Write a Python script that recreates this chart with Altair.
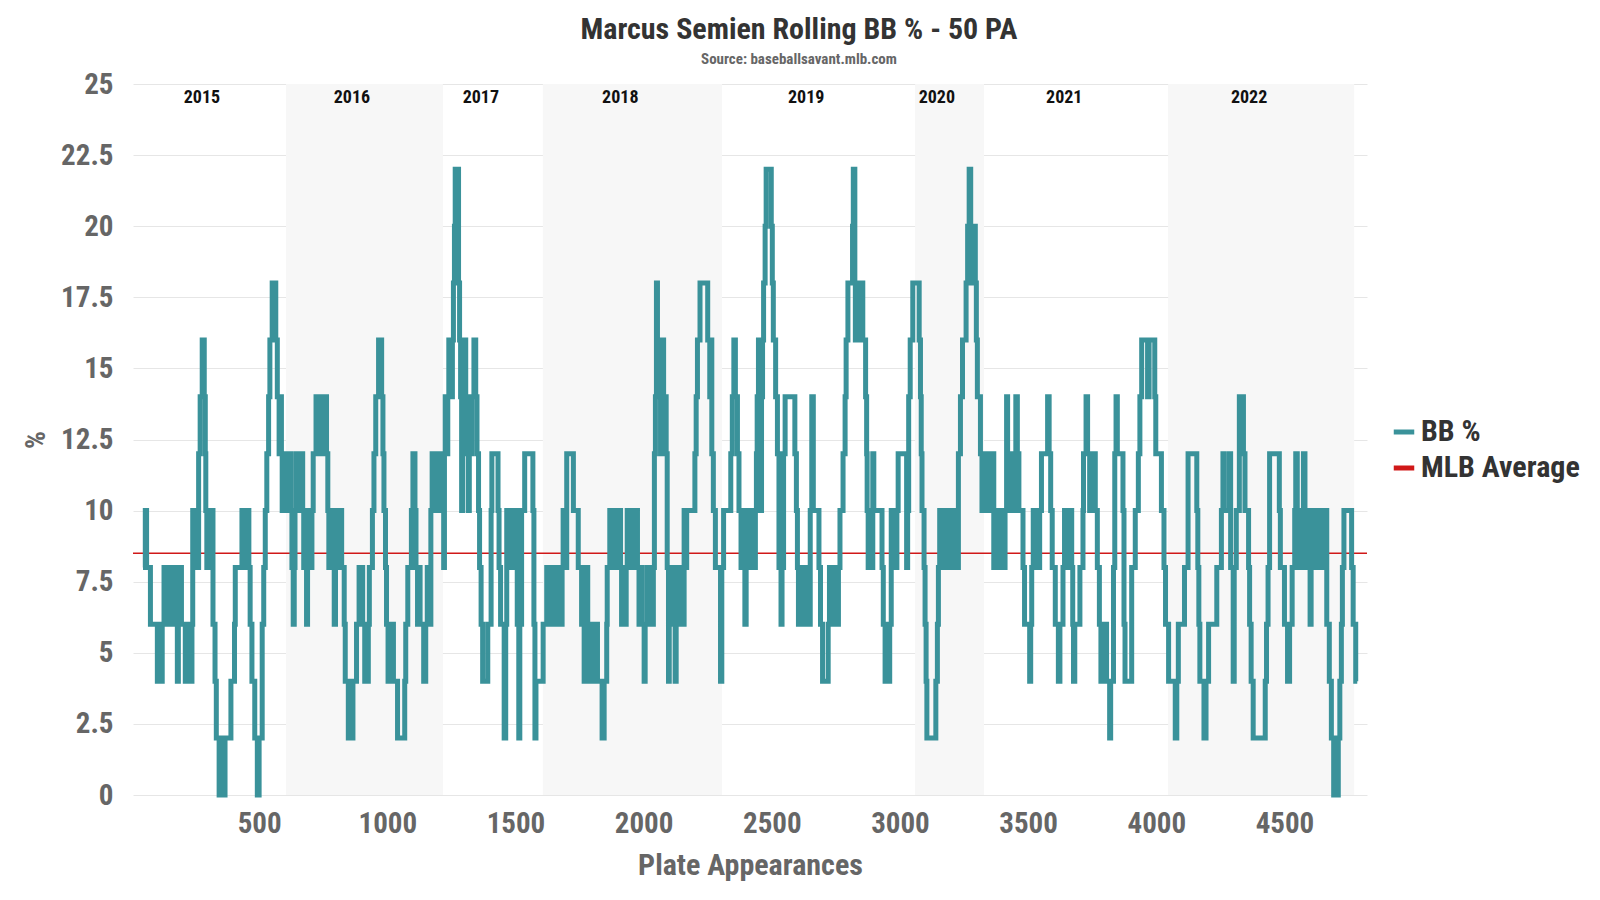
import altair as alt
import pandas as pd

FONT = "Roboto Condensed, Liberation Sans Narrow, DejaVu Sans Condensed, Roboto, sans-serif"

# Rolling 50-PA walk rate: plate appearance where the value changes, and the new value (%)
pa = [
    # 2015
    47, 56, 61, 76, 103, 107, 110, 114, 118, 122, 129, 133, 137, 141, 144, 148, 152, 156, 160, 164,
    168, 173, 181, 185, 191, 197, 212, 218, 221, 228, 232, 238, 241, 248, 264, 270, 278, 286, 290, 292,
    296, 299, 303, 307, 312, 316, 320, 328, 333, 344, 349, 353, 358, 362, 367, 390, 404, 407, 433, 440,
    444, 450, 455, 460, 465, 472, 483, 493, 500, 512, 518, 524, 530, 537, 542, 551, 565, 571, 578,
    # 2016
    581, 587, 590, 594, 598, 602, 607, 612, 616, 620, 625, 628, 633, 637, 640, 645, 650, 655, 660, 666,
    670, 674, 680, 685, 689, 694, 700, 706, 711, 722, 728, 732, 738, 744, 750, 756, 763, 768, 772, 776,
    780, 784, 788, 793, 798, 806, 822, 832, 836, 848, 866, 880, 890, 904, 912, 926, 930, 942, 948, 955,
    966, 978, 983, 987, 993, 997, 1003, 1008, 1013, 1020, 1024, 1040, 1068, 1072, 1080, 1094, 1100, 1108,
    1112, 1118, 1124, 1128, 1142, 1150, 1156, 1160,
    # 2017
    1170, 1175, 1178, 1182, 1186, 1190, 1195, 1200, 1205, 1210, 1216, 1220, 1223, 1226, 1232, 1236, 1240,
    1250, 1254, 1258, 1262, 1265, 1278, 1282, 1286, 1290, 1294, 1300, 1306, 1312, 1316, 1320, 1326, 1330,
    1338, 1345, 1350, 1356, 1360, 1366, 1372, 1392, 1405, 1408, 1432, 1436, 1442, 1456, 1462, 1466, 1480,
    1486, 1494, 1502, 1507, 1513, 1517, 1524, 1536, 1568, 1572, 1576, 1580,
    # 2018
    1608, 1622, 1628, 1634, 1640, 1646, 1652, 1658, 1664, 1670, 1676, 1682, 1686, 1690, 1700, 1726, 1745,
    1758, 1768, 1772, 1776, 1782, 1790, 1797, 1803, 1808, 1820, 1838, 1846, 1856, 1858, 1868, 1875, 1880,
    1886, 1892, 1900, 1905, 1910, 1914, 1932, 1936, 1942, 1948, 1954, 1960, 1966, 1972, 1976, 1982, 1990,
    1994, 2002, 2006, 2014, 2020, 2026, 2032, 2038, 2042, 2046, 2050, 2054, 2058, 2062, 2066, 2070, 2074,
    2078, 2082, 2088, 2092, 2097, 2100, 2106, 2112, 2118, 2123, 2127, 2133, 2140, 2146, 2152, 2158, 2162,
    2168, 2200, 2205, 2210, 2220, 2250, 2258, 2262, 2266, 2272, 2280, 2300,
    # 2019
    2305, 2312, 2340, 2346, 2352, 2358, 2366, 2372, 2380, 2386, 2392, 2395, 2400, 2405, 2410, 2415, 2420,
    2425, 2432, 2436, 2440, 2443, 2448, 2454, 2457, 2460, 2464, 2468, 2474, 2478, 2498, 2502, 2506, 2515,
    2522, 2528, 2536, 2540, 2546, 2552, 2590, 2596, 2600, 2604, 2610, 2615, 2620, 2625, 2630, 2635, 2640,
    2645, 2650, 2656, 2662, 2684, 2690, 2698, 2720, 2725, 2730, 2736, 2742, 2748, 2754, 2760, 2766, 2778,
    2786, 2790, 2797, 2815, 2818, 2824, 2826, 2836, 2842, 2850, 2855, 2866, 2870, 2872, 2876, 2894, 2898,
    2930, 2935, 2942, 2960, 2966, 2982, 2988, 2993, 3026, 3030, 3034, 3040, 3050,
    # 2020
    3075, 3080, 3083, 3086, 3094, 3098, 3102, 3105, 3140, 3146, 3150, 3155, 3160, 3165, 3170, 3175, 3180,
    3185, 3190, 3195, 3200, 3205, 3210, 3215, 3220, 3228, 3236, 3244, 3258, 3264, 3270, 3276, 3282, 3286,
    3294, 3298, 3302, 3314, 3320, 3324,
    # 2021
    3330, 3336, 3342, 3348, 3354, 3360, 3366, 3372, 3378, 3384, 3390, 3396, 3402, 3410, 3416, 3420, 3426,
    3432, 3440, 3446, 3452, 3458, 3464, 3480, 3486, 3506, 3510, 3514, 3520, 3526, 3532, 3538, 3545, 3552,
    3576, 3582, 3588, 3594, 3606, 3618, 3624, 3636, 3642, 3648, 3654, 3660, 3666, 3670, 3674, 3677, 3682,
    3702, 3714, 3716, 3726, 3732, 3740, 3745, 3752, 3758, 3762, 3770, 3778, 3784, 3788, 3794, 3800, 3806,
    3818, 3822, 3833, 3838, 3843, 3848, 3870, 3874, 3878, 3904, 3918, 3930, 3936, 3943, 3966, 3972, 3994,
    3998, 4020, 4030, 4036,
    # 2022
    4048, 4074, 4080, 4086, 4110, 4124, 4158, 4162, 4166, 4170, 4186, 4194, 4204, 4236, 4254, 4260, 4264,
    4284, 4290, 4300, 4304, 4312, 4324, 4340, 4346, 4360, 4364, 4370, 4378, 4425, 4430, 4436, 4442, 4480,
    4484, 4500, 4512, 4520, 4530, 4540, 4544, 4550, 4556, 4562, 4568, 4574, 4580, 4586, 4594, 4600, 4604,
    4610, 4616, 4622, 4628, 4634, 4640, 4646, 4652, 4660, 4665, 4675, 4683, 4692, 4710, 4716, 4722, 4726,
    4732, 4762, 4768, 4778, 4784,
]
bb = [
    # 2015
    8, 10, 8, 6, 4, 6, 4, 6, 4, 6, 8, 6, 8, 6, 8, 6, 8, 6, 8, 6,
    8, 6, 4, 6, 8, 6, 4, 6, 4, 6, 4, 6, 10, 8, 12, 14, 16, 14, 12, 10,
    8, 10, 8, 10, 8, 10, 6, 4, 2, 0, 2, 0, 2, 0, 2, 4, 6, 8, 10, 8,
    10, 8, 10, 8, 6, 4, 2, 0, 2, 6, 8, 10, 12, 14, 16, 18, 16, 14, 12,
    # 2016
    14, 12, 10, 12, 10, 12, 10, 12, 10, 12, 10, 8, 6, 8, 10, 12, 10, 12, 10, 12,
    10, 8, 10, 6, 8, 10, 8, 10, 12, 14, 12, 14, 12, 14, 12, 14, 12, 10, 8, 10,
    8, 10, 8, 6, 8, 10, 8, 6, 4, 2, 4, 6, 8, 6, 4, 6, 8, 10, 12, 14,
    16, 14, 12, 10, 8, 6, 4, 6, 4, 6, 4, 2, 4, 6, 8, 10, 12, 10,
    8, 6, 8, 6, 4, 6, 8, 6,
    # 2017
    10, 12, 10, 12, 10, 12, 10, 12, 10, 12, 10, 8, 12, 14, 12, 14, 16,
    14, 16, 18, 20, 22, 18, 16, 14, 10, 14, 16, 14, 12, 10, 14, 12, 14,
    16, 14, 12, 10, 8, 6, 4, 6, 10, 12, 10, 8, 6, 2, 6, 10, 8,
    10, 8, 10, 6, 2, 6, 10, 12, 10, 6, 2, 4,
    # 2018
    6, 8, 6, 8, 6, 8, 6, 8, 6, 8, 6, 8, 10, 8, 12, 10, 8,
    6, 4, 6, 8, 6, 4, 6, 4, 6, 4, 2, 4, 6, 8, 10, 8, 10,
    8, 10, 8, 10, 8, 6, 8, 10, 8, 10, 8, 10, 8, 10, 8, 6, 8,
    6, 4, 6, 8, 6, 8, 6, 8, 12, 14, 18, 16, 14, 16, 12, 14, 16,
    12, 14, 12, 8, 4, 6, 8, 6, 8, 4, 6, 8, 6, 8, 6, 10, 8,
    10, 12, 14, 16, 18, 16, 14, 16, 12, 10, 8, 4,
    # 2019
    8, 10, 12, 14, 16, 14, 12, 10, 8, 10, 8, 6, 8, 10, 8, 10, 8,
    10, 8, 10, 12, 14, 16, 14, 10, 14, 16, 18, 20, 22, 20, 18, 16, 14,
    12, 8, 6, 8, 12, 14, 12, 10, 8, 6, 8, 6, 8, 6, 8, 6, 8,
    6, 10, 14, 10, 8, 6, 4, 6, 8, 6, 8, 6, 8, 6, 8, 10, 12,
    14, 16, 18, 20, 22, 18, 16, 18, 16, 18, 16, 14, 12, 10, 8, 12, 10,
    8, 6, 4, 6, 10, 8, 10, 12, 8, 10, 14, 16, 18,
    # 2020
    16, 14, 12, 10, 8, 6, 4, 2, 4, 6, 8, 10, 8, 10, 8, 10, 8,
    10, 8, 10, 8, 10, 8, 10, 8, 12, 14, 16, 18, 20, 22, 20, 18, 20,
    18, 16, 14, 12, 10, 12,
    # 2021
    10, 12, 10, 12, 10, 12, 8, 10, 8, 10, 8, 10, 8, 10, 14, 12, 10,
    12, 10, 12, 14, 12, 10, 8, 6, 4, 6, 8, 10, 8, 10, 8, 10, 12,
    14, 12, 10, 8, 6, 4, 6, 8, 10, 8, 10, 8, 10, 8, 6, 4, 6,
    8, 10, 12, 14, 12, 10, 12, 10, 12, 10, 8, 6, 4, 6, 4, 6, 4,
    2, 4, 8, 12, 14, 12, 10, 6, 4, 8, 10, 12, 14, 16, 14, 16, 14,
    12, 10, 8, 6,
    # 2022
    4, 2, 4, 6, 8, 12, 10, 8, 6, 4, 2, 4, 6, 8, 10, 12, 10,
    12, 8, 4, 8, 10, 14, 12, 10, 8, 6, 4, 2, 4, 6, 8, 12, 10,
    8, 6, 4, 6, 8, 10, 12, 10, 8, 10, 8, 12, 10, 8, 10, 6, 8,
    10, 8, 10, 8, 10, 8, 10, 8, 10, 6, 4, 2, 0, 2, 4, 6, 8,
    10, 8, 6, 4, 4,
]

season_band_start = [605, 1607, 3059, 4046]
season_band_end = [1217, 2306, 3328, 4772]
season_names = ["2015", "2016", "2017", "2018", "2019", "2020", "2021", "2022"]
season_label_pa = [277, 862, 1365, 1909, 2634, 3144, 3641, 4362]
season_label_level = 24.5
mlb_average = 8.5
x_ticks = [500, 1000, 1500, 2000, 2500, 3000, 3500, 4000, 4500]
y_ticks = [0, 2.5, 5, 7.5, 10, 12.5, 15, 17.5, 20, 22.5, 25]

line_df = pd.DataFrame({"pa": pa, "bb": bb, "series": "BB %"})
avg_df = pd.DataFrame({"bb": [mlb_average], "series": ["MLB Average"]})
band_df = pd.DataFrame({"pa": season_band_start, "pa_end": season_band_end})
label_df = pd.DataFrame({"pa": season_label_pa, "season": season_names,
                         "bb": [season_label_level] * len(season_names)})

x_scale = alt.Scale(domain=[8, 4822], nice=False, zero=False)
y_scale = alt.Scale(domain=[0, 25], nice=False)

x_axis = alt.Axis(values=x_ticks, format="d", title="Plate Appearances", grid=False, ticks=False,
                  domain=False, labelFont=FONT, labelFontSize=29, labelFontWeight="bold",
                  labelColor="#666666", labelPadding=14, titleFont=FONT, titleFontSize=30,
                  titleFontWeight="bold", titleColor="#666666", titlePadding=12)
y_axis = alt.Axis(values=y_ticks, labelExpr="'' + datum.value", title="%", grid=True,
                  gridColor="#e6e6e6", gridWidth=1, ticks=False, domain=False, labelFont=FONT,
                  labelFontSize=29, labelFontWeight="bold", labelColor="#666666", labelPadding=20,
                  titleFont=FONT, titleFontSize=28, titleFontWeight="bold", titleColor="#666666",
                  titlePadding=10)

color = alt.Color("series:N",
                  scale=alt.Scale(domain=["BB %", "MLB Average"], range=["#3a929a", "#d01818"]),
                  legend=alt.Legend(title=None, orient="none", legendX=1256, legendY=333,
                                    symbolType="stroke", symbolStrokeWidth=5, symbolSize=420,
                                    labelFont=FONT, labelFontSize=30, labelFontWeight="bold",
                                    labelColor="#333333", rowPadding=6, labelOffset=2))

bands = alt.Chart(band_df).mark_rect(color="#f7f7f7").encode(
    x=alt.X("pa:Q", scale=x_scale, axis=x_axis),
    x2="pa_end:Q",
)

labels = alt.Chart(label_df).mark_text(font=FONT, fontSize=18, fontWeight="bold", color="#111111").encode(
    x=alt.X("pa:Q", scale=x_scale, axis=x_axis),
    y=alt.Y("bb:Q", scale=y_scale, axis=y_axis),
    text="season:N",
)

avg_rule = alt.Chart(avg_df).mark_rule(strokeWidth=1.5).encode(
    y=alt.Y("bb:Q", scale=y_scale, axis=y_axis),
    color=color,
)

line = alt.Chart(line_df).mark_line(interpolate="step-after", strokeWidth=5).encode(
    x=alt.X("pa:Q", scale=x_scale, axis=x_axis),
    y=alt.Y("bb:Q", scale=y_scale, axis=y_axis),
    color=color,
)

chart = alt.layer(bands, avg_rule, line, labels).properties(
    width=1234,
    height=711,
    background="white",
    autosize=alt.AutoSizeParams(type="none"),
    padding={"left": 125, "top": 76, "right": 225, "bottom": 97},
    title=alt.TitleParams(
        text="Marcus Semien Rolling BB % - 50 PA",
        subtitle="Source: baseballsavant.mlb.com",
        font=FONT, fontSize=30, fontWeight="bold", color="#333333",
        subtitleFont=FONT, subtitleFontSize=15, subtitleFontWeight="bold", subtitleColor="#666666",
        subtitlePadding=7, anchor="middle", dx=49, offset=3,
    ),
).configure_view(stroke=None)

chart.save("out.html", embed_options={"renderer": "svg", "actions": False})
